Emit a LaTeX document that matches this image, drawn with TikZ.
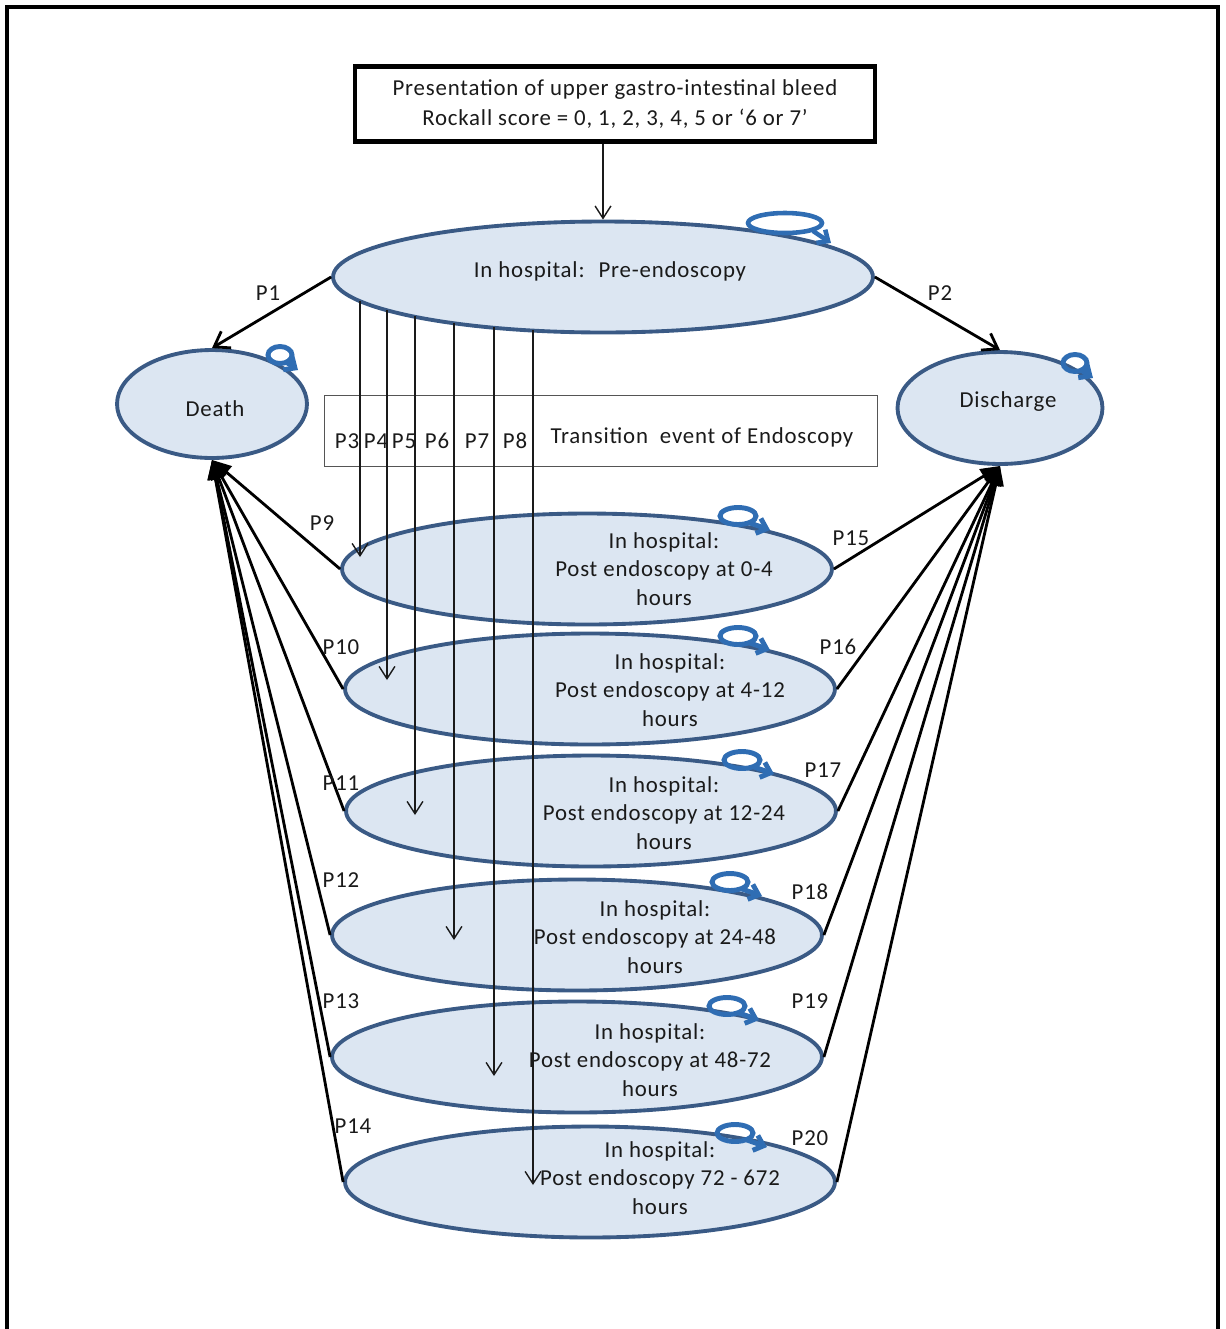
\documentclass[tikz,border=0pt]{standalone}
\usepackage{fontspec}
\setmainfont{Carlito}[LetterSpace=3.5]
\usetikzlibrary{shapes.geometric,arrows.meta,calc}
\definecolor{ellfill}{HTML}{DCE6F2}
\definecolor{ellline}{HTML}{3A5A85}
\definecolor{loopblue}{HTML}{2F6DB3}
\definecolor{ink}{HTML}{1A1A1A}
\definecolor{boxgray}{HTML}{555555}

\tikzset{
  loopsmall/.pic={
    \draw[loopblue, line width=2.8pt] (0,0) ellipse [x radius=0.36cm, y radius=0.17cm];
    \draw[loopblue, line width=2.8pt, -{Straight Barb[length=5pt,width=9pt]}] (12,7) -- (32,14);
  },
  loopbig/.pic={
    \draw[loopblue, line width=2.6pt] (0,0) ellipse [x radius=0.74cm, y radius=0.2cm];
    \draw[loopblue, line width=2.6pt, -{Straight Barb[length=5pt,width=9pt]}] (28,8) -- (46,20);
  },
  loopround/.pic={
    \draw[loopblue, line width=2.8pt] (0,0) ellipse [x radius=0.24cm, y radius=0.17cm];
    \draw[loopblue, line width=2.8pt, -{Straight Barb[length=5pt,width=9pt]}] (6,7) -- (18,15);
  }
}

\begin{document}
\begin{tikzpicture}[x=0.02cm,y=-0.02cm,
  font=\fontsize{13}{16.4}\selectfont,
  state/.style={ellipse, draw=ellline, line width=2.2pt, fill=ellfill, inner sep=0pt, text=ink},
  post/.style={state, minimum width=9.8cm, minimum height=2.22cm},
  stext/.style={align=center, text=ink, inner sep=0pt},
  plabel/.style={text=ink, inner sep=1pt},
  thinarrow/.style={draw=ink, line width=0.8pt, -{Straight Barb[length=7pt,width=9pt]}},
  mainarrow/.style={draw=black, line width=1.6pt, -{Straight Barb[length=8pt,width=11pt]}},
  sinkarrow/.style={draw=black, line width=1.6pt, -{Triangle[length=11pt,width=9pt]}}
]
\useasboundingbox (0,0) rectangle (1225,1329);

% open page frame
\draw[black, line width=1.8pt] (7,1329) -- (7,7) -- (1218,7) -- (1218,1329);

% entry box
\node[draw=black, line width=2.6pt, minimum width=10.4cm, minimum height=1.5cm, align=center, text=ink,
      font=\fontsize{13}{17}\selectfont] (entry) at (615,104)
  {Presentation of upper gastro-intestinal bleed\\Rockall score = 0, 1, 2, 3, 4, 5 or ‘6 or 7’};

% states
\node[state, minimum width=10.8cm, minimum height=2.22cm] (pre) at (603,277) {};
\node[stext] (pretext) at (610,271) {In hospital: \ Pre-endoscopy};
\node[state, minimum width=3.8cm, minimum height=2.16cm] (death) at (212,404) {};
\node[stext] (deathtext) at (215,409) {Death};
\node[state, minimum width=4.1cm, minimum height=2.24cm] (disch) at (1000,408) {};
\node[stext] (dischtext) at (1008,402) {Discharge};

% transition box
\node[draw=boxgray, line width=0.8pt, minimum width=11.06cm, minimum height=1.42cm] (trans) at (601,431) {};
\node[plabel] (ttext) at (702,437) {Transition \ event of Endoscopy};

\node[post] (q1) at (587,569) {};
\node[post] (q2) at (590,689) {};
\node[post] (q3) at (591,811) {};
\node[post] (q4) at (577,935) {};
\node[post] (q5) at (577,1057) {};
\node[post] (q6) at (590,1182) {};

\node[stext] (t1) at (664,569) {In hospital:\\Post endoscopy at 0-4\\hours};
\node[stext] (t2) at (670,690) {In hospital:\\Post endoscopy at 4-12\\hours};
\node[stext] (t3) at (664,813) {In hospital:\\Post endoscopy at 12-24\\hours};
\node[stext] (t4) at (655,937) {In hospital:\\Post endoscopy at 24-48\\hours};
\node[stext] (t5) at (650,1060) {In hospital:\\Post endoscopy at 48-72\\hours};
\node[stext] (t6) at (660,1178) {In hospital:\\Post endoscopy 72 - 672\\hours};

% self transitions
\pic at (785,223) {loopbig};
\pic at (280,355) {loopround};
\pic at (1075,363) {loopround};
\pic at (738,516) {loopsmall};
\pic at (738,636) {loopsmall};
\pic at (742,760) {loopsmall};
\pic at (730,882) {loopsmall};
\pic at (727,1006) {loopsmall};
\pic at (735,1133) {loopsmall};

% entry into hospital
\draw[thinarrow] (entry.south -| pre.north) -- (pre.north);

% pre-endoscopy exits
\draw[mainarrow] (pre.west) -- (death.north);
\draw[mainarrow] (pre.east) -- (disch.north);
\node[plabel] (lp1) at (268,293) {P1};
\node[plabel] (lp2) at (940,293) {P2};

% endoscopy transitions
\coordinate (s3) at (360,301); \coordinate (e3) at (360,557);
\coordinate (s4) at (387,310); \coordinate (e4) at (387,680);
\coordinate (s5) at (415,316); \coordinate (e5) at (415,815);
\coordinate (s6) at (454,323); \coordinate (e6) at (454,940);
\coordinate (s7) at (494,327); \coordinate (e7) at (494,1076);
\coordinate (s8) at (533,330); \coordinate (e8) at (533,1185);
\foreach \k in {3,...,8} \draw[thinarrow] (s\k) -- (e\k);

\node[plabel] at (347,441) {P3};
\node[plabel] at (376,441) {P4};
\node[plabel] at (404,441) {P5};
\node[plabel] at (437,441) {P6};
\node[plabel] at (477,441) {P7};
\node[plabel] at (515,441) {P8};

% post-endoscopy exits
\foreach \k in {1,...,6} {
  \draw[sinkarrow] (q\k.west) -- (death.south);
  \draw[sinkarrow] (q\k.east) -- (disch.south);
}

\node[plabel] at (322,523) {P9};
\node[plabel] at (341,647) {P10};
\node[plabel] at (341,783) {P11};
\node[plabel] at (341,880) {P12};
\node[plabel] at (341,1001) {P13};
\node[plabel] at (353,1126) {P14};
\node[plabel] at (851,538) {P15};
\node[plabel] at (838,647) {P16};
\node[plabel] at (823,770) {P17};
\node[plabel] at (810,892) {P18};
\node[plabel] at (810,1001) {P19};
\node[plabel] at (810,1138) {P20};
\end{tikzpicture}
\end{document}
